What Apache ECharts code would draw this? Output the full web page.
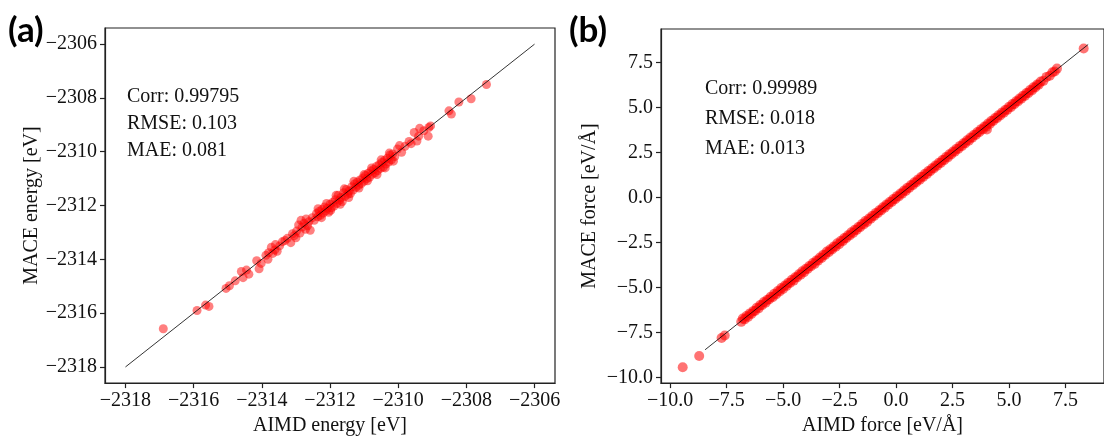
<!DOCTYPE html>
<html>
<head>
<meta charset="utf-8">
<script src="https://cdn.jsdelivr.net/npm/echarts@6/dist/echarts.min.js"></script>
<style>
  html, body { margin: 0; padding: 0; background: #fff; }
  #chart { width: 1104px; height: 441px; }
</style>
</head>
<body>
<div id="chart"></div>
<script>
// ---- panel (a): total energies [eV] ----
const energyAIMD = [
  -2316.89, -2315.90, -2315.65, -2315.55, -2315.05, -2314.95, -2314.78, -2314.60, -2314.55, -2314.45,
  -2314.38, -2314.15, -2314.08, -2314.02, -2313.88, -2313.80, -2313.72, -2313.68, -2313.62, -2313.55,
  -2313.48, -2313.40, -2313.32, -2313.25, -2313.15, -2313.10, -2313.05, -2312.98, -2312.92, -2312.88,
  -2312.82, -2312.76, -2312.72, -2312.66, -2312.62, -2312.58, -2312.52, -2312.46, -2312.40, -2312.36,
  -2312.32, -2312.28, -2312.24, -2312.20, -2312.16, -2312.12, -2312.08, -2312.04, -2312.00, -2311.96,
  -2311.92, -2311.88, -2311.84, -2311.80, -2311.76, -2311.72, -2311.68, -2311.64, -2311.60, -2311.56,
  -2311.52, -2311.48, -2311.44, -2311.40, -2311.36, -2311.32, -2311.28, -2311.24, -2311.20, -2311.16,
  -2311.12, -2311.08, -2311.04, -2311.00, -2310.96, -2310.92, -2310.88, -2310.84, -2310.80, -2310.76,
  -2310.72, -2310.68, -2310.64, -2310.60, -2310.56, -2310.52, -2310.48, -2310.44, -2310.40, -2310.36,
  -2310.32, -2310.28, -2310.24, -2310.20, -2310.16, -2310.10, -2310.02, -2309.96, -2309.90, -2309.80,
  -2309.68, -2309.62, -2309.53, -2309.45, -2309.40, -2309.37, -2309.25, -2309.12, -2309.10, -2309.05,
  -2308.51, -2308.44, -2308.22, -2307.86, -2307.41,
  -2312.35, -2312.25, -2312.10, -2311.98, -2311.82, -2311.70, -2311.58, -2311.45, -2311.30, -2311.15,
  -2311.00, -2310.90, -2310.78, -2310.62, -2310.50, -2310.38, -2310.26, -2310.14, -2312.85, -2313.00,
  -2312.70, -2313.60, -2313.82
];
const energyMACE = [
  -2316.58, -2315.90, -2315.70, -2315.75, -2315.08, -2314.98, -2314.80, -2314.45, -2314.68, -2314.40,
  -2314.55, -2314.05, -2314.35, -2314.15, -2313.85, -2313.75, -2313.55, -2313.78, -2313.65, -2313.70,
  -2313.50, -2313.35, -2313.30, -2313.22, -2313.38, -2313.05, -2313.12, -2312.95, -2312.72, -2313.02,
  -2312.80, -2312.66, -2312.88, -2312.75, -2312.60, -2312.92, -2312.45, -2312.55, -2312.30, -2312.42,
  -2312.22, -2312.36, -2312.15, -2312.28, -2312.05, -2312.20, -2312.10, -2312.25, -2311.95, -2312.08,
  -2311.88, -2312.02, -2311.78, -2311.92, -2311.62, -2311.80, -2311.70, -2311.85, -2311.52, -2311.66,
  -2311.40, -2311.58, -2311.46, -2311.55, -2311.30, -2311.42, -2311.20, -2311.32, -2311.12, -2311.25,
  -2311.05, -2311.18, -2310.98, -2311.10, -2310.88, -2311.00, -2310.80, -2310.95, -2310.72, -2310.84,
  -2310.66, -2310.78, -2310.55, -2310.70, -2310.48, -2310.62, -2310.40, -2310.58, -2310.32, -2310.46,
  -2310.24, -2310.38, -2310.12, -2310.30, -2310.08, -2310.18, -2309.90, -2309.77, -2310.02, -2309.80,
  -2309.62, -2309.70, -2309.28, -2309.60, -2309.42, -2309.13, -2309.22, -2309.42, -2309.10, -2309.04,
  -2308.48, -2308.60, -2308.15, -2308.03, -2307.50,
  -2312.12, -2312.45, -2311.92, -2312.18, -2311.62, -2311.95, -2311.38, -2311.70, -2311.10, -2311.35,
  -2310.85, -2311.08, -2310.60, -2310.85, -2310.30, -2310.60, -2310.05, -2310.35, -2312.55, -2313.20,
  -2312.50, -2313.45, -2314.00
];
const energyParity = [-2318, -2306];
const energyTicks = [-2318, -2316, -2314, -2312, -2310, -2308, -2306];
const energyStats = ['Corr: 0.99795', 'RMSE: 0.103', 'MAE: 0.081'];

// ---- panel (b): atomic force components [eV/Å] ----
const forceAIMD = [
  -9.44, -8.71, -7.72, -7.58,
  -6.85, -6.78, -6.70, -6.62, -6.55, -6.47, -6.40, -6.31, -6.24, -6.16, -6.08, -6.01, -5.93, -5.85, -5.77, -5.70,
  -5.62, -5.54, -5.46, -5.39, -5.31, -5.23, -5.15, -5.08, -5.00, -4.92, -4.84, -4.77, -4.69, -4.61, -4.53, -4.46,
  -4.38, -4.30, -4.22, -4.15, -4.07, -3.99, -3.91, -3.84, -3.76, -3.68, -3.60, -3.53, -3.45, -3.37, -3.29, -3.22,
  -3.14, -3.06, -2.98, -2.91, -2.83, -2.75, -2.67, -2.60, -2.52, -2.44, -2.36, -2.29, -2.21, -2.13, -2.05, -1.98,
  -1.90, -1.82, -1.74, -1.67, -1.59, -1.51, -1.43, -1.36, -1.28, -1.20, -1.12, -1.05, -0.97, -0.89, -0.81, -0.74,
  -0.66, -0.58, -0.50, -0.43, -0.35, -0.27, -0.19, -0.12, -0.04, 0.04, 0.12, 0.19, 0.27, 0.35, 0.43, 0.50,
  0.58, 0.66, 0.74, 0.81, 0.89, 0.97, 1.05, 1.12, 1.20, 1.28, 1.36, 1.43, 1.51, 1.59, 1.67, 1.74,
  1.82, 1.90, 1.98, 2.05, 2.13, 2.21, 2.29, 2.36, 2.44, 2.52, 2.60, 2.67, 2.75, 2.83, 2.91, 2.98,
  3.06, 3.14, 3.22, 3.29, 3.37, 3.45, 3.53, 3.60, 3.68, 3.76, 3.84, 3.91, 3.99, 4.07, 4.15, 4.22,
  4.30, 4.38, 4.46, 4.53, 4.61, 4.69, 4.77, 4.84, 4.92, 5.00, 5.08, 5.15, 5.23, 5.31, 5.39, 5.46,
  5.54, 5.62, 5.70, 5.77, 5.85, 5.93, 6.01, 6.08, 6.16, 6.24, 6.31, 6.40, 6.52, 6.66, 6.80, 6.92,
  7.02, 7.12, 4.02, 8.30
];
const forceMACE = [
  -9.42, -8.80, -7.80, -7.66,
  -6.90, -6.72, -6.76, -6.57, -6.63, -6.43, -6.46, -6.29, -6.30, -6.11, -6.15, -5.97, -5.98, -5.80, -5.84, -5.67,
  -5.66, -5.50, -5.53, -5.34, -5.38, -5.19, -5.21, -5.02, -5.07, -4.88, -4.90, -4.73, -4.74, -4.56, -4.61, -4.42,
  -4.43, -4.26, -4.28, -4.09, -4.14, -3.95, -3.97, -3.80, -3.81, -3.63, -3.68, -3.49, -3.50, -3.33, -3.35, -3.18,
  -3.19, -3.00, -3.04, -2.87, -2.88, -2.71, -2.73, -2.54, -2.59, -2.40, -2.42, -2.25, -2.26, -2.09, -2.11, -1.92,
  -1.97, -1.78, -1.80, -1.63, -1.64, -1.47, -1.49, -1.30, -1.35, -1.16, -1.18, -1.01, -1.02, -0.85, -0.87, -0.70,
  -0.71, -0.54, -0.56, -0.39, -0.40, -0.23, -0.25, -0.08, -0.09, 0.08, 0.06, 0.23, 0.22, 0.39, 0.37, 0.54,
  0.53, 0.70, 0.68, 0.85, 0.84, 1.01, 0.99, 1.16, 1.15, 1.32, 1.30, 1.47, 1.46, 1.63, 1.61, 1.78,
  1.77, 1.94, 1.92, 2.09, 2.08, 2.25, 2.23, 2.40, 2.39, 2.56, 2.54, 2.71, 2.70, 2.87, 2.85, 3.02,
  3.01, 3.18, 3.16, 3.33, 3.32, 3.49, 3.47, 3.64, 3.63, 3.80, 3.78, 3.95, 3.94, 4.11, 4.09, 4.26,
  4.25, 4.42, 4.40, 4.57, 4.56, 4.73, 4.71, 4.88, 4.87, 5.04, 5.02, 5.19, 5.18, 5.35, 5.33, 5.50,
  5.49, 5.66, 5.64, 5.81, 5.80, 5.97, 5.95, 6.12, 6.11, 6.28, 6.26, 6.44, 6.48, 6.70, 6.76, 6.96,
  7.00, 7.16, 3.78, 8.28
];
const forceParity = [-8.45, 8.5];
const forceTicks = [-10, -7.5, -5, -2.5, 0, 2.5, 5, 7.5];
const forceStats = ['Corr: 0.99989', 'RMSE: 0.018', 'MAE: 0.013'];

const SERIF = '"Liberation Serif", "Times New Roman", serif';
const INK = '#222';

function pairs(xs, ys) { return xs.map((x, i) => [x, ys[i]]); }
const minus = s => String(s).replace('-', '\u2212');

function valueAxis(cfg) {
  return Object.assign({
    type: 'value',
    nameLocation: 'middle',
    nameTextStyle: { fontFamily: SERIF, fontSize: 20, color: '#111' },
    axisLine: { show: true, onZero: false, lineStyle: { color: INK, width: 1.2 } },
    axisTick: { show: true, inside: false, length: 5, customValues: cfg.ticks,
                lineStyle: { color: INK, width: 1.2 } },
    axisLabel: { show: true, customValues: cfg.ticks, fontFamily: SERIF, fontSize: 20,
                 color: '#111', margin: 8, formatter: cfg.fmt,
                 showMinLabel: true, showMaxLabel: true },
    splitLine: { show: false }
  }, cfg.opts);
}

const chart = echarts.init(document.getElementById('chart'), null, { renderer: 'canvas' });

function statText(lines, x, ys) {
  return lines.map((t, i) => ({
    type: 'text', left: x, top: ys[i],
    style: { text: t, font: '20px ' + SERIF, fill: '#111' }
  }));
}

chart.setOption({
  animation: false,
  backgroundColor: '#fff',
  grid: [
    { left: 105, top: 28, width: 450, height: 360, show: true, borderColor: INK, borderWidth: 1.2, backgroundColor: 'transparent' },
    { left: 661, top: 29, width: 446, height: 359, show: true, borderColor: INK, borderWidth: 1.2, backgroundColor: 'transparent' }
  ],
  xAxis: [
    valueAxis({ ticks: energyTicks, fmt: v => minus(v),
      opts: { gridIndex: 0, min: -2318.6, max: -2305.4, name: 'AIMD energy [eV]', nameGap: 32 } }),
    valueAxis({ ticks: forceTicks, fmt: v => minus(Number(v).toFixed(1)),
      opts: { gridIndex: 1, min: -10.4, max: 9.2, name: 'AIMD force [eV/Å]', nameGap: 32 } })
  ],
  yAxis: [
    valueAxis({ ticks: energyTicks, fmt: v => minus(v),
      opts: { gridIndex: 0, min: -2318.6, max: -2305.4, name: 'MACE energy [eV]', nameGap: 61 } }),
    valueAxis({ ticks: forceTicks, fmt: v => minus(Number(v).toFixed(1)),
      opts: { gridIndex: 1, min: -10.3, max: 9.36, name: 'MACE force [eV/Å]', nameGap: 61 } })
  ],
  series: [
    { type: 'scatter', xAxisIndex: 0, yAxisIndex: 0, data: pairs(energyAIMD, energyMACE),
      symbolSize: 9, itemStyle: { color: '#ff0000', opacity: 0.5 }, z: 2 },
    { type: 'line', xAxisIndex: 0, yAxisIndex: 0, data: pairs(energyParity, energyParity),
      symbol: 'none', lineStyle: { color: '#000', width: 0.8 }, z: 3 },
    { type: 'scatter', xAxisIndex: 1, yAxisIndex: 1, data: pairs(forceAIMD, forceMACE),
      symbolSize: 10, itemStyle: { color: '#ff0000', opacity: 0.55 }, z: 2 },
    { type: 'line', xAxisIndex: 1, yAxisIndex: 1, data: pairs(forceParity, forceParity),
      symbol: 'none', lineStyle: { color: '#000', width: 0.8 }, z: 3 }
  ],
  graphic: [
    { type: 'text', left: 8, top: 13, style: { text: '(a)', font: 'bold 35px Lato, "Open Sans", sans-serif', fill: '#000' } },
    { type: 'text', left: 569, top: 13, style: { text: '(b)', font: 'bold 35px Lato, "Open Sans", sans-serif', fill: '#000' } }
  ].concat(statText(energyStats, 127, [87, 114, 141]))
   .concat(statText(forceStats, 705, [79, 109, 139]))
});
</script>
</body>
</html>
